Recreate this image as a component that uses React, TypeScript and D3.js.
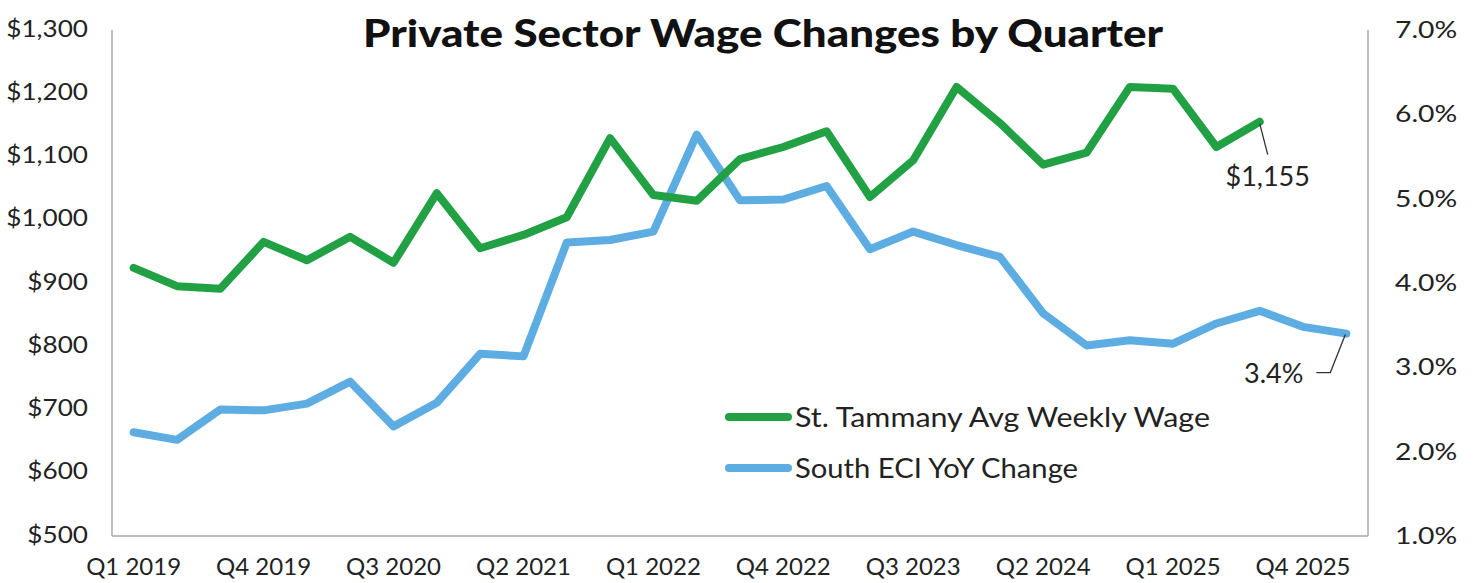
import React from "react";
import * as d3 from "d3";

const quarters = [
  "Q1 2019","Q2 2019","Q3 2019","Q4 2019",
  "Q1 2020","Q2 2020","Q3 2020","Q4 2020",
  "Q1 2021","Q2 2021","Q3 2021","Q4 2021",
  "Q1 2022","Q2 2022","Q3 2022","Q4 2022",
  "Q1 2023","Q2 2023","Q3 2023","Q4 2023",
  "Q1 2024","Q2 2024","Q3 2024","Q4 2024",
  "Q1 2025","Q2 2025","Q3 2025","Q4 2025",
  "Q1 2026",
];

const wageValues = [
  924, 895, 891, 965, 936, 973, 932, 1042, 955, 976, 1004, 1129, 1039, 1030,
  1096, 1115, 1140, 1036, 1094, 1210, 1153, 1087, 1106, 1210, 1207, 1115, 1155,
];

const eciValues = [
  2.23, 2.14, 2.5, 2.49, 2.57, 2.83, 2.3, 2.58, 3.16, 3.13, 4.48, 4.51, 4.61,
  5.76, 4.98, 4.99, 5.15, 4.4, 4.61, 4.45, 4.31, 3.64, 3.26, 3.32, 3.28, 3.52,
  3.67, 3.48, 3.4,
];

const leftTicks = [500, 600, 700, 800, 900, 1000, 1100, 1200, 1300];
const rightTicks = [1, 2, 3, 4, 5, 6, 7];
const xTickLabels = [
  "Q1 2019","Q4 2019","Q3 2020","Q2 2021","Q1 2022",
  "Q4 2022","Q3 2023","Q2 2024","Q1 2025","Q4 2025",
];

const seriesNames = ["St. Tammany Avg Weekly Wage", "South ECI YoY Change"];
const legendWidths = [415, 283];
const wageLabel = "$1,155";
const eciLabel = "3.4%";
const title = "Private Sector Wage Changes by Quarter";

const GREEN = "#22a144";
const BLUE = "#5eade2";
const AXIS = "#a9a9a9";
const TEXT = "#222";
const FONT = "Lato, 'Open Sans', sans-serif";

export default function App() {
  const W = 1478;
  const H = 583;
  const left = 112;
  const right = 1368;
  const top = 30;
  const bottom = 536;

  const x = d3.scaleBand<string>().domain(quarters).range([left, right]);
  const cx = (q: string) => (x(q) as number) + x.bandwidth() / 2;
  const yL = d3.scaleLinear().domain([500, 1300]).range([bottom, top]);
  const yR = d3.scaleLinear().domain([1, 7]).range([bottom, top]);

  const wageLine = d3
    .line<number>()
    .x((_, i) => cx(quarters[i]))
    .y((d) => yL(d));
  const eciLine = d3
    .line<number>()
    .x((_, i) => cx(quarters[i]))
    .y((d) => yR(d));

  const fmtL = (v: number) => "$" + d3.format(",")(v);
  const fmtR = (v: number) => d3.format(".1f")(v) + "%";

  const lastW = wageValues.length - 1;
  const wx = cx(quarters[lastW]);
  const wy = yL(wageValues[lastW]);
  const lastE = eciValues.length - 1;
  const ex = cx(quarters[lastE]);
  const ey = yR(eciValues[lastE]);

  return (
    <div style={{ position: "absolute", left: 0, top: 0 }}>
      <svg width={W} height={H} style={{ display: "block", background: "#fff" }} fontFamily={FONT}>
        {/* axes frame */}
        <line x1={left} y1={top} x2={left} y2={bottom} stroke={AXIS} strokeWidth={1.5} />
        <line x1={right} y1={top} x2={right} y2={bottom} stroke={AXIS} strokeWidth={1.5} />
        <line x1={left} y1={bottom} x2={right} y2={bottom} stroke={AXIS} strokeWidth={1.5} />

        {leftTicks.map((t) => (
          <g key={"l" + t} transform={`translate(88, ${yL(t) - 3}) scale(1.09, 1)`}>
            <text textAnchor="end" dominantBaseline="central" fontSize={24} fill={TEXT}>
              {fmtL(t)}
            </text>
          </g>
        ))}
        {rightTicks.map((t) => (
          <g key={"r" + t} transform={`translate(1395, ${yR(t) - 1}) scale(1.18, 1)`}>
            <text textAnchor="start" dominantBaseline="central" fontSize={24} fill={TEXT}>
              {fmtR(t)}
            </text>
          </g>
        ))}
        {xTickLabels.map((q) => (
          <text key={"x" + q} x={cx(q)} y={565} textAnchor="middle" dominantBaseline="central" fontSize={24} fill={TEXT}>
            {q}
          </text>
        ))}

        {/* lines */}
        <path d={eciLine(eciValues) || ""} fill="none" stroke={BLUE} strokeWidth={8} strokeLinejoin="round" strokeLinecap="round" />
        <path d={wageLine(wageValues) || ""} fill="none" stroke={GREEN} strokeWidth={8} strokeLinejoin="round" strokeLinecap="round" />

        {/* annotations */}
        <line x1={wx} y1={wy + 2} x2={wx + 8} y2={wy + 33} stroke="#333" strokeWidth={1.3} />
        <text x={wx + 8} y={175} textAnchor="middle" dominantBaseline="central" fontSize={27} fill={TEXT}>
          {wageLabel}
        </text>
        <polyline
          points={`${ex - 1},${ey + 1} ${ex - 16},${ey + 39} ${ex - 30},${ey + 39}`}
          fill="none"
          stroke="#333"
          strokeWidth={1.3}
        />
        <text x={ex - 43} y={ey + 39} textAnchor="end" dominantBaseline="central" fontSize={27} fill={TEXT}>
          {eciLabel}
        </text>

        {/* legend */}
        {seriesNames.map((name, i) => (
          <g key={name} transform={`translate(0, ${417 + i * 51})`}>
            <line x1={729} x2={788} y1={0} y2={0} stroke={i === 0 ? GREEN : BLUE} strokeWidth={8} strokeLinecap="round" />
            <text
              x={795}
              y={0}
              dominantBaseline="central"
              fontSize={26}
              fill={TEXT}
              textLength={legendWidths[i]}
              lengthAdjust="spacingAndGlyphs"
            >
              {name}
            </text>
          </g>
        ))}

        {/* title */}
        <text
          x={763}
          y={32}
          textAnchor="middle"
          dominantBaseline="central"
          fontSize={37}
          fontWeight={900}
          fill="#111"
          textLength={800}
          lengthAdjust="spacingAndGlyphs"
        >
          {title}
        </text>
      </svg>
    </div>
  );
}
